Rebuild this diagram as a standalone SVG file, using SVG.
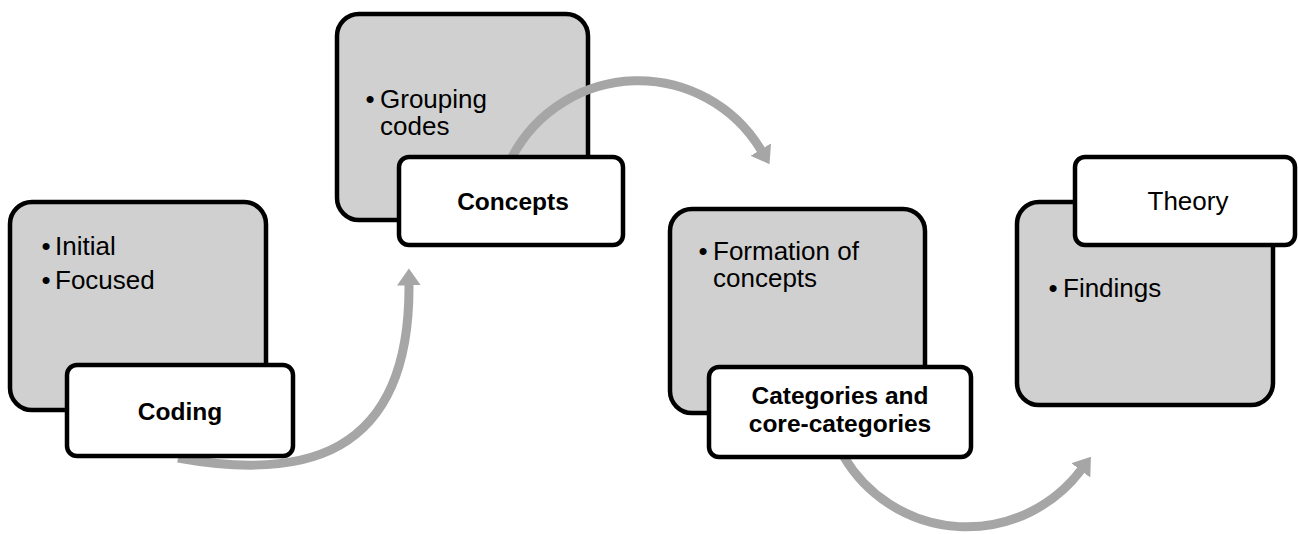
<svg xmlns="http://www.w3.org/2000/svg" width="1298" height="534" viewBox="0 0 1298 534">
  <style>
    .detail { fill: #d0d0d0; stroke: #000; stroke-width: 4.5; }
    .label { fill: #fff; stroke: #000; stroke-width: 4.5; }
    .item { font-family: "Liberation Sans", Arial, sans-serif; font-size: 26px; fill: #000; }
    .bullet { font-family: "Liberation Sans", Arial, sans-serif; font-size: 26px; fill: #000; text-anchor: middle; }
    .title { font-family: "Liberation Sans", Arial, sans-serif; font-size: 24.5px; font-weight: bold; fill: #000; text-anchor: middle; }
    .title-plain { font-family: "Liberation Sans", Arial, sans-serif; font-size: 26px; fill: #000; text-anchor: middle; }
    .flow { fill: none; stroke: #a6a6a6; stroke-width: 9; marker-end: url(#head); }
  </style>
  <defs>
    <marker id="head" markerUnits="userSpaceOnUse" viewBox="0 0 17 24" markerWidth="17" markerHeight="24" refX="0.5" refY="12" orient="auto">
      <path d="M0,0 L17,12 L0,24 Z" fill="#a6a6a6"/>
    </marker>
  </defs>

  <!-- detail panels -->
  <g id="coding-details">
    <rect class="detail" x="10" y="202" width="256" height="208" rx="22"/>
    <text class="bullet" x="46" y="255">•</text>
    <text class="item" x="55" y="255">Initial</text>
    <text class="bullet" x="46" y="289">•</text>
    <text class="item" x="55" y="289">Focused</text>
  </g>
  <g id="concepts-details">
    <rect class="detail" x="337" y="14" width="251" height="206" rx="22"/>
    <text class="bullet" x="370" y="108">•</text>
    <text class="item" x="380" y="108">Grouping<tspan x="380" dy="27">codes</tspan></text>
  </g>
  <g id="categories-details">
    <rect class="detail" x="670" y="209" width="255" height="204" rx="22"/>
    <text class="bullet" x="703" y="260">•</text>
    <text class="item" x="713" y="260">Formation of<tspan x="713" dy="27">concepts</tspan></text>
  </g>
  <g id="theory-details">
    <rect class="detail" x="1017" y="202" width="256" height="203" rx="22"/>
    <text class="bullet" x="1053" y="297">•</text>
    <text class="item" x="1063" y="297">Findings</text>
  </g>

  <!-- curved flow arrows -->
  <g id="connectors">
    <path class="flow" d="M 178 458 C 300 480 410 460 409 285"/>
    <path class="flow" d="M 512 157 A 143 143 0 0 1 761 150"/>
    <path class="flow" d="M 844 457 A 143 143 0 0 0 1081 470"/>
  </g>

  <!-- stage labels -->
  <g id="coding">
    <rect class="label" x="67" y="365" width="226" height="91" rx="10"/>
    <text class="title" x="180" y="420">Coding</text>
  </g>
  <g id="concepts">
    <rect class="label" x="399" y="157" width="224" height="88" rx="10"/>
    <text class="title" x="513" y="210">Concepts</text>
  </g>
  <g id="categories">
    <rect class="label" x="709" y="367" width="262" height="90" rx="10"/>
    <text class="title" x="840" y="404">Categories and<tspan x="840" dy="28">core-categories</tspan></text>
  </g>
  <g id="theory">
    <rect class="label" x="1075" y="157" width="220" height="88" rx="10"/>
    <text class="title-plain" x="1188" y="210">Theory</text>
  </g>
</svg>
